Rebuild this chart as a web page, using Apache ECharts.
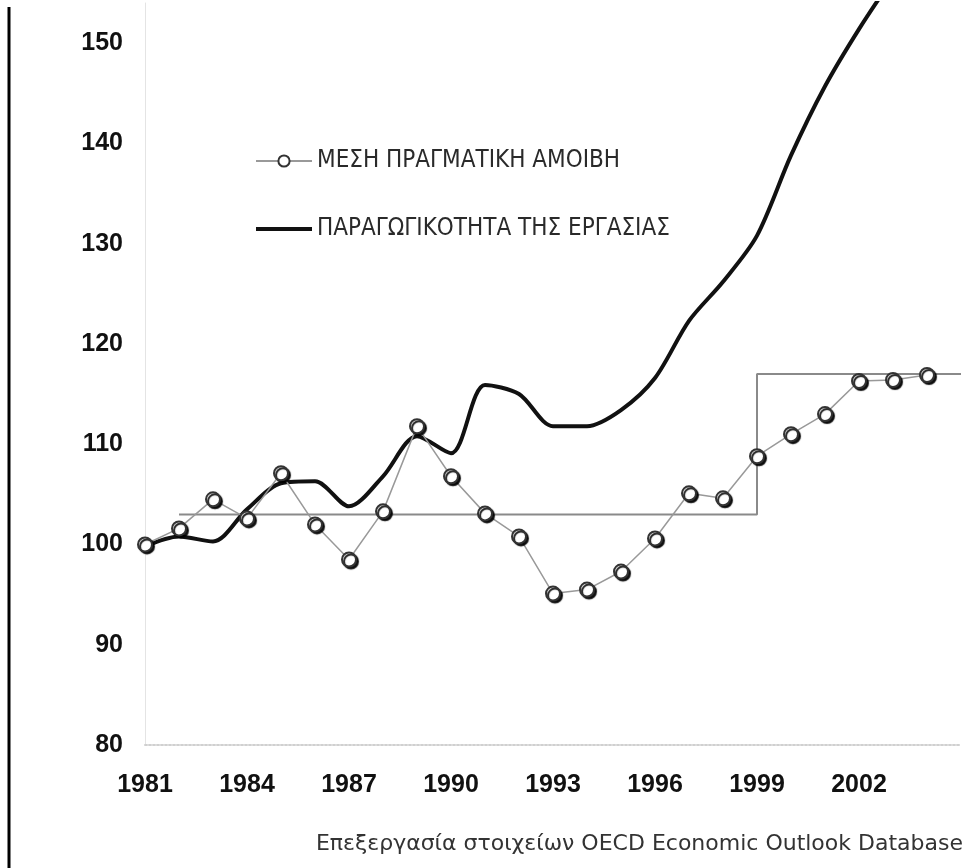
<!DOCTYPE html>
<html>
<head>
<meta charset="utf-8">
<script src="https://cdn.jsdelivr.net/npm/echarts@6/dist/echarts.min.js"></script>
<style>
  html, body { margin: 0; padding: 0; background: #fff; }
  #myChart { width: 979px; height: 868px; }
</style>
</head>
<body>
<div id="myChart"></div>
<script>
  // years on the x axis (labels every 3 years)
  var years = [1981, 1982, 1983, 1984, 1985, 1986, 1987, 1988, 1989, 1990, 1991, 1992,
    1993, 1994, 1995, 1996, 1997, 1998, 1999, 2000, 2001, 2002, 2003, 2004, 2005];

  // ΜΕΣΗ ΠΡΑΓΜΑΤΙΚΗ ΑΜΟΙΒΗ
  var wage = [100, 101.6, 104.5, 102.6, 107.1, 102.0, 98.5, 103.3, 111.8, 106.8, 103.1, 100.8,
    95.1, 95.5, 97.3, 100.6, 105.1, 104.6, 108.8, 111.0, 113.0, 116.3, 116.4, 116.9, null];

  // ΠΑΡΑΓΩΓΙΚΟΤΗΤΑ ΤΗΣ ΕΡΓΑΣΙΑΣ
  var productivity = [99.8, 100.8, 100.3, 103.5, 106.1, 106.3, 103.8, 106.8, 110.8, 109.1, 115.9, 115.0,
    111.8, 111.8, 113.4, 116.6, 122.3, 126.2, 130.8, 138.8, 145.7, 151.4, 156.5, null, null];

  // period averages of the wage (step line)
  var wageAvg = [null, 103, 103, 103, 103, 103, 103, 103, 103, 103, 103, 103,
    103, 103, 103, 103, 103, 103, 117, 117, 117, 117, 117, 117, 117];

  var yTicks = [80, 90, 100, 110, 120, 130, 140, 150];

  var wageName = 'ΜΕΣΗ ΠΡΑΓΜΑΤΙΚΗ ΑΜΟΙΒΗ';
  var prodName = 'ΠΑΡΑΓΩΓΙΚΟΤΗΤΑ ΤΗΣ ΕΡΓΑΣΙΑΣ';
  var narrow = '"Liberation Sans Narrow", "DejaVu Sans Condensed", sans-serif';
  var bold = '"Liberation Sans", Arial, sans-serif';

  var myChart = echarts.init(document.getElementById('myChart'));

  var option = {
    animation: false,
    backgroundColor: '#fff',
    grid: {
      left: 145,
      right: 18,
      top: 3,
      bottom: 123
    },
    legend: {
      data: [
        { name: wageName },
        { name: prodName, itemStyle: { opacity: 0 }, lineStyle: { width: 4, color: '#111' } }
      ],
      orient: 'vertical',
      left: 249,
      top: 143,
      itemWidth: 56,
      itemHeight: 14,
      itemGap: 42,
      textStyle: {
        fontFamily: narrow,
        fontSize: 24,
        lineHeight: 26,
        color: '#2a2a2a'
      }
    },
    xAxis: {
      type: 'category',
      data: years,
      boundaryGap: false,
      axisLine: { lineStyle: { color: '#d0d0d0', type: 'dotted', width: 2 } },
      axisTick: { show: false },
      axisLabel: {
        interval: 2,
        margin: 28,
        fontFamily: bold,
        fontWeight: 'bold',
        fontSize: 25,
        color: '#111',
        formatter: function (v) { return v == 2005 ? '' : v; }
      },
      splitLine: { show: false }
    },
    yAxis: {
      type: 'value',
      min: 80,
      max: 154,
      interval: 10,
      axisLine: { show: true, lineStyle: { color: '#e4e4e4', width: 1 } },
      axisTick: { show: false },
      splitLine: { show: false },
      axisLabel: {
        margin: 22,
        fontFamily: bold,
        fontWeight: 'bold',
        fontSize: 25,
        color: '#111',
        showMaxLabel: false,
        formatter: function (v) { return yTicks.indexOf(v) >= 0 ? v : ''; }
      }
    },
    series: [
      {
        name: 'avg',
        type: 'line',
        step: 'end',
        data: wageAvg,
        symbol: 'none',
        lineStyle: { color: '#8a8a8a', width: 2 },
        z: 1
      },
      {
        name: prodName,
        type: 'line',
        data: productivity,
        smooth: 0.3,
        symbol: 'none',
        lineStyle: { color: '#111', width: 4 },
        itemStyle: { color: '#111' },
        z: 2
      },
      {
        name: wageName,
        type: 'line',
        data: wage,
        symbol: 'circle',
        symbolSize: 14,
        lineStyle: { color: '#999', width: 1.5 },
        itemStyle: {
          color: '#fff',
          borderColor: '#333',
          borderWidth: 2,
          shadowColor: 'rgba(0,0,0,0.9)',
          shadowOffsetX: 2,
          shadowOffsetY: 2,
          shadowBlur: 1
        },
        z: 3
      }
    ],
    graphic: [
      {
        type: 'line',
        shape: { x1: 9, y1: 7, x2: 9, y2: 868 },
        style: { stroke: '#000', lineWidth: 3 }
      },
      {
        type: 'text',
        right: 16,
        top: 833,
        style: {
          text: 'Επεξεργασία στοιχείων OECD Economic Outlook Database',
          fontFamily: '"DejaVu Sans", sans-serif',
          fontSize: 22,
          fill: '#333'
        }
      }
    ]
  };

  myChart.setOption(option);
</script>
</body>
</html>
